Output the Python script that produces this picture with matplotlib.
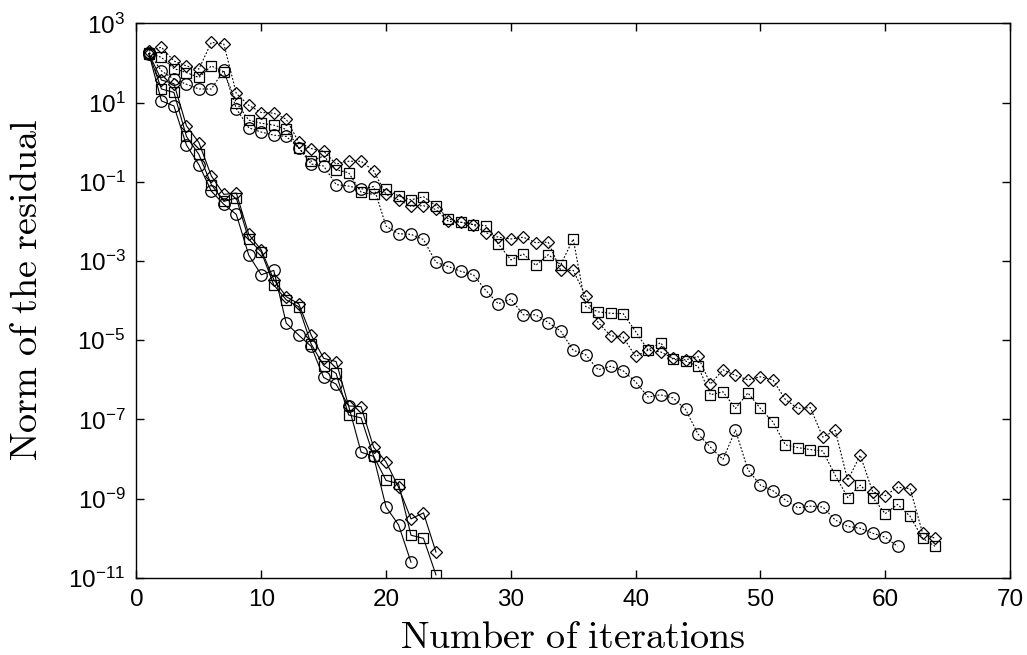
import matplotlib
matplotlib.use("Agg")
import matplotlib.pyplot as plt

plt.rcParams['font.family'] = ['Liberation Sans', 'DejaVu Sans']

# solid curves (fast convergence)
res_solid_circle = [170, 11, 8.2, 0.85, 0.27, 0.058, 0.027, 0.015, 1.4e-3, 4.5e-4,
                    5.8e-4, 2.7e-5, 1.35e-5, 7e-6, 1.15e-6, 7.8e-7, 2.2e-7, 1.5e-8,
                    1.17e-8, 6.2e-10, 2.2e-10, 2.5e-11]
res_solid_square = [170, 22, 18, 1.4, 0.49, 0.085, 0.032, 0.039, 3.5e-3, 1.7e-3,
                    2.5e-4, 1.05e-4, 7e-5, 8e-6, 2.3e-6, 1.45e-6, 1.3e-7, 1.1e-7,
                    1.2e-8, 2.9e-9, 2.4e-9, 1.2e-10, 1.0e-10, 1.2e-11]
res_solid_diamond = [170, 37, 30, 2.6, 0.98, 0.14, 0.048, 0.052, 4.7e-3, 1.9e-3,
                     3.4e-4, 1.26e-4, 8.3e-5, 1.35e-5, 3.5e-6, 2.9e-6, 2.2e-7, 2.1e-7,
                     2.0e-8, 8.5e-9, 1.95e-9, 3.1e-10, 4.4e-10, 4.5e-11]

# dotted curves (slow convergence)
res_dot_circle = [180, 63, 39, 29, 22, 22, 65, 7.0, 2.3, 1.8,
                  1.5, 1.4, 0.72, 0.28, 0.25, 0.085, 0.078, 0.065, 0.076, 7.6e-3,
                  4.9e-3, 4.7e-3, 3.5e-3, 9.3e-4, 7.2e-4, 5.5e-4, 4.5e-4, 1.8e-4, 8.3e-5, 1.1e-4,
                  4.4e-5, 4.4e-5, 2.8e-5, 1.7e-5, 5.6e-6, 4.3e-6, 1.8e-6, 2.2e-6, 1.7e-6, 8.9e-7,
                  3.7e-7, 4.2e-7, 3.5e-7, 1.8e-7, 4.3e-8, 2.0e-8, 9.8e-9, 5.4e-8, 5.4e-9, 2.2e-9,
                  1.6e-9, 9.3e-10, 5.9e-10, 6.5e-10, 6.2e-10, 2.9e-10, 2.0e-10, 1.8e-10, 1.35e-10, 1.07e-10,
                  6.3e-11]
res_dot_square = [180, 138, 72, 57, 43, 84, 60, 10, 3.6, 3.0,
                  2.7, 2.1, 0.72, 0.33, 0.45, 0.2, 0.17, 0.055, 0.048, 0.065,
                  0.044, 0.035, 0.042, 0.025, 0.0115, 0.0095, 0.0083, 0.0078, 0.0027, 0.00107,
                  0.0015, 0.00078, 0.00145, 0.00081, 0.0036, 7.1e-5, 5.2e-5, 4.8e-5, 4.7e-5, 1.66e-5,
                  5.6e-6, 8.7e-6, 3.3e-6, 3.0e-6, 2.2e-6, 4.2e-7, 5.0e-7, 1.9e-7, 4.7e-7, 1.9e-7,
                  8.7e-8, 2.3e-8, 1.95e-8, 1.74e-8, 1.6e-8, 3.9e-9, 1.07e-9, 2.2e-9, 1.07e-9, 4.2e-10,
                  7.2e-10, 3.6e-10, 1.0e-10, 6.3e-11]
res_dot_diamond = [200, 250, 112, 84, 70, 330, 300, 17, 8.5, 5.6,
                   5.4, 3.8, 1.0, 0.69, 0.59, 0.28, 0.33, 0.33, 0.19, 0.048,
                   0.035, 0.024, 0.025, 0.02, 0.01, 0.0095, 0.0083, 0.0052, 0.004, 0.0036,
                   0.004, 0.0029, 0.003, 5.8e-4, 5.8e-4, 1.3e-4, 2.8e-5, 1.3e-5, 1.2e-5, 3.9e-6,
                   5.6e-6, 5.1e-6, 3.5e-6, 3.2e-6, 3.9e-6, 7.8e-7, 1.8e-6, 1.3e-6, 1.0e-6, 1.2e-6,
                   1.0e-6, 3.2e-7, 1.9e-7, 2.0e-7, 3.6e-8, 5.3e-8, 2.9e-9, 1.26e-8, 1.5e-9, 1.2e-9,
                   1.95e-9, 1.8e-9, 1.35e-10, 1.0e-10]

ytick_vals = [1e3, 1e1, 1e-1, 1e-3, 1e-5, 1e-7, 1e-9, 1e-11]
ytick_labels = [r'$\mathdefault{10^{3}}$', r'$\mathdefault{10^{1}}$', r'$\mathdefault{10^{-1}}$',
                r'$\mathdefault{10^{-3}}$', r'$\mathdefault{10^{-5}}$', r'$\mathdefault{10^{-7}}$',
                r'$\mathdefault{10^{-9}}$', r'$\mathdefault{10^{-11}}$']
xtick_vals = [0, 10, 20, 30, 40, 50, 60, 70]

fig = plt.figure(figsize=(10.27, 6.55), dpi=100)
ax = fig.add_axes([0.1329, 0.1176, 0.8505, 0.8468])

dotted = (0, (1.6, 1.6))
series = [
    (res_solid_circle, 'o', 8.3, '-'),
    (res_solid_square, 's', 6.8, '-'),
    (res_solid_diamond, 'D', 6.6, '-'),
    (res_dot_circle, 'o', 8.3, dotted),
    (res_dot_square, 's', 6.8, dotted),
    (res_dot_diamond, 'D', 6.6, dotted),
]
for vals, mk, ms, ls in series:
    it = list(range(1, len(vals) + 1))
    ax.plot(it, vals, color='black', linestyle=ls, linewidth=0.8,
            marker=mk, markersize=ms, markerfacecolor='none',
            markeredgecolor='black', markeredgewidth=0.9)

ax.set_yscale('log')
ax.set_xlim(0, 70)
ax.set_ylim(1e-11, 1e3)
ax.set_yticks(ytick_vals)
ax.set_yticklabels(ytick_labels)
ax.minorticks_off()
ax.set_xticks(xtick_vals)
ax.tick_params(direction='in', top=True, right=True, length=6, width=1,
               labelsize=17.5, pad=8)
for s in ax.spines.values():
    s.set_linewidth(1)

fig.text(0.558, 1 - 638 / 655, r'$\mathrm{Number\ of\ iterations}$', fontsize=27.5,
         math_fontfamily='cm', ha='center', va='center')
fig.text(27 / 1027, 1 - 290 / 655, r'$\mathrm{Norm\ of\ the\ residual}$', fontsize=27.5,
         math_fontfamily='cm', ha='center', va='center', rotation=90)

fig.savefig('out.png', dpi=100)
